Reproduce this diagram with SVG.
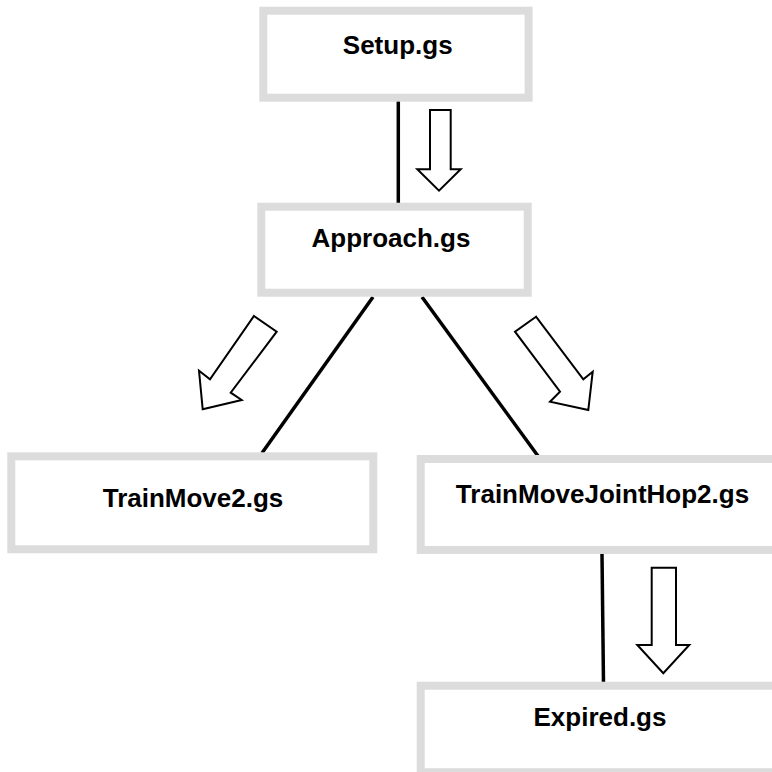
<svg xmlns="http://www.w3.org/2000/svg" width="772" height="772" viewBox="0 0 772 772">
<style>
.box{fill:#fff;stroke:#dcdcdc;stroke-width:8}
.lbl{font-family:"Liberation Sans",Arial,sans-serif;font-weight:bold;font-size:26px;fill:#000;text-anchor:middle}
.line{stroke:#000;stroke-width:3.5;fill:none}
.harrow{fill:#fff;stroke:#000;stroke-width:2;stroke-linejoin:miter}
</style>
<rect width="772" height="772" fill="#fff"/>
<g id="connectors">
<line class="line" x1="398.3" y1="101" x2="398.3" y2="204"/>
<line class="line" x1="373" y1="297" x2="262" y2="453"/>
<line class="line" x1="422" y1="297" x2="538" y2="456"/>
<line class="line" x1="602" y1="554" x2="603.5" y2="684"/>
<polygon class="harrow" points="430,110 450.7,110 450.7,169.3 460.7,169.3 439,190.7 417.3,169.3 430,169.3"/>
<polygon class="harrow" points="254,316 276.7,331.7 230.7,392.7 241.7,400 202.7,409.3 199,370.7 210,379.3"/>
<polygon class="harrow" points="536,316.7 515,331.7 560,391.7 550,401.7 588.3,410 592.7,371.7 583.3,379.3"/>
<polygon class="harrow" points="651.7,567.7 676,567.7 676,645 689.3,645 663.3,673.3 637.3,645 651.7,645"/>
</g>
<g id="setup">
<rect class="box" x="263.3" y="10.7" width="265.3" height="87"/>
<text class="lbl" x="397.7" y="54.3">Setup.gs</text>
</g>
<g id="approach">
<rect class="box" x="261.3" y="206.7" width="266.4" height="86"/>
<text class="lbl" x="391" y="246.7">Approach.gs</text>
</g>
<g id="trainmove2">
<rect class="box" x="11.3" y="456.3" width="362" height="93"/>
<text class="lbl" x="193" y="506.7">TrainMove2.gs</text>
</g>
<g id="trainmovejointhop2">
<rect class="box" x="420.7" y="459" width="360" height="91"/>
<text class="lbl" x="602.5" y="503.3">TrainMoveJointHop2.gs</text>
</g>
<g id="expired">
<rect class="box" x="420.7" y="685.7" width="360" height="86.5"/>
<text class="lbl" x="600" y="725.7">Expired.gs</text>
</g>
</svg>
